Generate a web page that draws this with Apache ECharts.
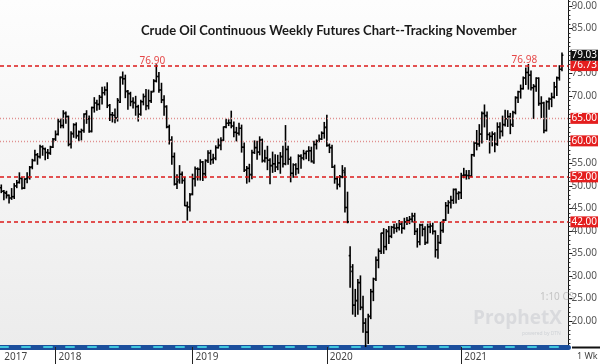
<!DOCTYPE html>
<html><head><meta charset="utf-8">
<script src="https://cdn.jsdelivr.net/npm/echarts@6/dist/echarts.min.js"></script>
<style>html,body{margin:0;padding:0;background:#fff}#c{width:600px;height:364px}</style>
</head><body><div id="c"></div>
<script>
// ---- data ----
const firstWeek = '2017-08-07';
const extraWeeks = 2; // empty weeks to the right of last bar
// weekly bars: [open, high, low, close]
const weeklyBars = [
[49.6,50.2,48.5,48.8],[48.8,49.0,46.9,48.5],[48.4,48.8,47.3,47.9],[47.9,48.0,46.2,47.3],
[47.3,49.4,47.0,47.6],[47.6,50.5,47.2,50.0],[50.0,51.2,49.6,50.7],[50.8,52.9,50.6,51.7],
[51.6,51.8,49.3,49.5],[49.5,51.6,49.4,51.5],[51.6,52.9,50.7,51.9],[51.9,54.3,51.5,54.1],
[54.2,55.9,53.8,55.6],[55.7,57.9,55.5,56.9],[56.9,57.2,54.8,56.5],[56.5,59.0,56.2,58.7],
[58.7,58.9,56.8,58.3],[58.2,58.4,55.8,57.4],[57.4,58.1,56.1,57.3],[57.3,58.8,57.0,58.6],
[58.6,60.5,58.5,60.3],[60.4,62.2,60.1,61.4],[61.5,64.8,61.3,64.3],[64.3,64.9,62.9,63.4],
[63.4,66.7,62.9,66.1],[66.1,66.4,63.9,65.4],[65.4,65.5,58.9,59.2],[59.3,62.0,58.4,61.6],
[61.6,63.8,60.8,63.6],[63.6,64.0,60.6,61.2],[61.1,62.2,60.0,62.0],[62.0,62.6,60.2,62.3],
[62.3,66.0,61.9,65.9],[66.0,66.7,63.9,64.9],[64.9,65.5,61.9,62.1],[62.1,67.5,62.0,67.4],
[67.4,69.6,66.4,68.4],[68.4,69.0,66.8,68.1],[68.1,70.1,67.0,69.7],[69.7,71.9,68.2,70.7],
[70.7,72.0,70.2,71.3],[71.3,72.9,67.4,67.9],[67.8,68.1,64.5,65.8],[65.8,66.3,64.2,65.7],
[65.7,67.1,64.0,65.1],[65.1,69.4,64.4,69.0],[68.6,74.2,68.5,74.1],[74.1,75.3,72.6,73.8],
[73.8,74.6,69.6,71.0],[71.0,71.2,67.0,70.5],[70.5,70.8,67.8,68.7],[68.8,69.6,67.3,68.5],
[68.5,69.9,65.7,67.6],[67.6,67.9,64.4,65.9],[65.9,69.0,65.7,68.7],[68.7,70.4,68.0,69.8],
[69.9,71.4,66.9,67.8],[67.8,71.3,67.1,68.9],[68.9,71.0,68.5,70.8],[71.0,73.6,70.9,73.3],
[73.3,76.9,73.1,74.3],[74.3,75.2,70.8,71.3],[71.3,72.8,68.5,69.1],[69.1,70.0,65.7,67.6],
[67.6,67.8,62.9,63.1],[63.1,63.5,59.3,60.2],[60.2,60.9,54.8,56.5],[56.5,57.3,50.2,50.4],
[50.4,52.5,49.4,50.9],[51.3,54.5,50.6,52.6],[52.6,53.1,50.6,51.2],[51.2,51.9,45.6,45.6],
[45.6,46.4,42.4,45.3],[45.3,48.3,44.4,48.0],[48.2,52.6,48.0,51.6],[51.6,54.2,50.0,53.8],
[53.8,54.0,51.3,53.7],[53.7,55.8,51.3,55.3],[55.3,55.4,51.2,52.7],[52.7,55.8,51.8,55.6],
[55.6,57.8,55.2,57.3],[57.3,57.9,54.8,55.8],[55.9,57.0,55.0,56.1],[56.2,58.9,55.8,58.5],
[58.5,60.4,58.4,59.0],[59.0,60.7,58.0,60.1],[60.1,63.1,60.1,63.1],[63.1,64.8,62.9,63.9],
[63.9,64.7,63.4,64.0],[64.0,66.6,62.9,63.3],[63.3,64.2,60.9,61.9],[61.9,63.0,60.0,61.7],
[61.7,63.9,61.3,62.8],[62.8,63.5,57.5,58.6],[58.6,59.5,53.2,53.5],[53.5,54.3,50.6,53.9],
[53.9,54.8,50.9,52.5],[52.5,57.9,51.6,57.4],[57.4,60.0,57.2,58.5],[58.5,59.9,55.9,57.5],
[57.5,60.9,56.9,60.2],[60.2,60.4,55.3,55.6],[55.6,57.9,55.3,56.2],[56.2,58.8,53.6,55.7],
[55.7,56.0,50.5,54.5],[54.5,57.5,53.0,54.9],[54.9,56.9,53.2,54.2],[54.2,56.8,53.6,55.1],
[55.1,57.4,52.8,56.5],[56.5,58.8,54.2,54.9],[54.9,63.4,54.7,58.1],[58.1,58.8,54.8,55.9],
[55.9,56.4,50.9,52.8],[52.8,54.9,51.9,54.7],[54.7,54.9,52.4,53.8],[53.8,56.9,52.8,56.6],
[56.6,56.9,53.9,56.2],[56.2,57.9,55.8,57.2],[57.2,57.7,56.0,57.7],[57.7,58.7,55.6,57.8],
[57.8,58.6,55.3,55.5],[55.2,59.9,55.0,59.2],[59.2,60.2,58.2,59.9],[59.9,61.3,59.8,60.4],
[60.4,62.0,60.3,61.7],[61.7,64.1,60.6,63.0],[63.0,65.7,58.8,59.0],[59.0,59.3,57.4,58.5],
[58.5,59.0,54.1,54.2],[54.2,54.6,50.6,51.6],[51.6,52.0,49.3,50.3],[50.3,52.3,49.8,52.0],
[52.0,54.5,51.8,53.4],[53.0,54.0,44.2,45.2],[45.2,48.6,41.8,42.0],[34.5,36.5,27.5,32.0],
[31.0,32.5,21.5,23.5],[23.5,27.0,21.0,24.5],[24.5,29.2,21.5,28.5],[28.5,30.0,22.5,23.0],
[23.0,25.5,17.5,19.5],[19.5,20.5,14.3,17.5],[17.5,21.5,15.0,21.0],[21.0,27.0,20.5,26.5],
[26.5,29.5,24.5,29.3],[29.3,34.2,29.0,33.5],[33.5,36.0,31.8,35.5],[35.5,39.5,35.0,39.5],
[39.5,40.5,35.0,36.5],[36.5,40.3,35.8,39.9],[39.9,41.0,37.2,38.8],[38.8,41.0,38.5,40.8],
[40.8,41.5,39.5,40.6],[40.6,41.6,39.8,40.7],[40.7,42.3,40.2,41.5],[41.5,42.0,39.5,40.6],
[40.6,42.8,40.4,42.0],[42.0,43.0,41.4,42.3],[42.3,43.2,41.6,42.6],[42.6,43.9,42.0,43.3],
[43.3,43.9,39.2,39.9],[39.9,40.5,36.4,37.6],[37.6,41.5,36.9,41.3],[41.3,41.5,38.9,40.4],
[40.4,40.9,37.0,37.4],[37.4,41.5,37.3,40.9],[40.9,41.6,39.6,41.1],[41.1,41.7,39.3,39.9],
[39.9,40.0,34.2,35.8],[35.8,39.0,33.9,37.4],[37.4,41.9,37.2,40.1],[40.1,42.5,39.7,42.4],
[42.4,46.3,42.3,45.6],[45.6,46.7,43.9,46.3],[46.3,47.7,45.1,46.8],[46.8,49.3,46.1,49.2],
[49.2,49.3,46.2,48.3],[48.3,48.7,47.0,48.5],[48.5,52.8,47.2,52.3],[52.3,53.9,51.8,52.4],
[52.4,53.4,51.5,52.3],[52.3,53.4,51.6,52.2],[52.2,57.0,52.0,56.9],[56.9,59.8,56.6,59.5],
[59.5,62.3,58.0,59.3],[59.3,63.6,58.8,61.5],[61.5,66.4,59.5,66.1],[66.1,67.98,63.1,65.6],
[65.6,66.4,60.3,61.4],[61.4,61.8,57.3,61.0],[61.0,62.0,58.9,61.5],[61.5,61.8,57.6,59.3],
[59.3,64.0,59.0,63.1],[63.1,64.0,60.6,62.1],[62.1,65.5,61.1,63.6],[63.6,66.8,63.3,64.9],
[64.9,66.7,63.2,65.4],[65.4,66.1,61.6,63.6],[63.6,66.6,63.2,66.3],[66.3,69.8,66.0,69.6],
[69.6,71.0,68.5,70.9],[70.9,72.4,69.5,71.6],[71.6,74.2,71.5,74.0],[74.0,76.2,72.5,75.2],
[75.2,76.98,71.5,74.6],[74.6,75.5,71.3,71.8],[71.8,72.5,65.0,72.1],[72.1,74.0,71.0,73.9],
[73.9,74.0,67.9,68.3],[68.3,69.8,65.2,68.4],[68.4,68.6,61.8,62.3],[62.3,68.9,62.2,68.7],
[68.7,69.5,67.0,69.3],[69.3,70.6,67.6,69.7],[69.7,73.0,69.5,72.0],[72.0,74.2,70.1,74.0],
[74.0,76.7,73.5,75.9],[75.9,79.5,75.6,79.03]
];
const yTickValues = [20,25,30,35,40,45,50,55,60,65,70,75,80,85,90];
const yTickLabels = [20,25,30,35,40,45,50,55,60,65,70,75,85,90]; // 80.00 hidden under last-price box
const dashedLevels = [76.73, 52.00, 42.00];
const dottedLevels = [65.00, 60.00];
const lastPrice = 79.03;
const peakWeeks = ['2018-10-01', '2021-07-05'];
const peakValues = [76.90, 76.98];
const titleText = 'Crude Oil Continuous Weekly Futures Chart--Tracking November';

// ---- build ----
const weeks = [];
{
  const t0 = Date.parse(firstWeek + 'T00:00:00Z');
  for (let i = 0; i < weeklyBars.length + extraWeeks; i++) {
    weeks.push(new Date(t0 + i * 7 * 86400000).toISOString().slice(0, 10));
  }
}
const isYearStart = (i) => i > 0 && weeks[i].slice(0, 4) !== weeks[i - 1].slice(0, 4);
const barData = weeklyBars.map((b, i) => [i, b[0], b[1], b[2], b[3]]);
const minorTicks = [];
for (let v = 15; v <= 91; v++) minorTicks.push(v);

const lblBox = (bg) => ({
  show: true, position: 'end', distance: 2, formatter: (p) => p.value.toFixed(2),
  backgroundColor: bg, color: '#fff', fontSize: 10, fontFamily: 'Noto Sans',
  padding: [1, 1, 0, 1]
});
function levelSeries(values, lineStyle, bg, z) {
  return {
    type: 'line', data: [], silent: true, z: z,
    markLine: {
      silent: true, symbol: ['none', 'none'], animation: false,
      lineStyle: lineStyle, label: lblBox(bg),
      emphasis: { disabled: true },
      data: values.map(v => ({ yAxis: v }))
    }
  };
}

function renderOHLC(params, api) {
  const x = api.value(0);
  const o = api.coord([x, api.value(1)]);
  const h = api.coord([x, api.value(2)]);
  const l = api.coord([x, api.value(3)]);
  const c = api.coord([x, api.value(4)]);
  const w = api.size([1, 0])[0];
  const t = Math.max(1, w * 0.55);
  const st = { stroke: '#000', lineWidth: 1.6 };
  return {
    type: 'group', children: [
      { type: 'line', shape: { x1: h[0], y1: h[1] - 0.5, x2: l[0], y2: l[1] + 0.5 }, style: st },
      { type: 'line', shape: { x1: o[0] - t, y1: o[1], x2: o[0], y2: o[1] }, style: st },
      { type: 'line', shape: { x1: c[0], y1: c[1], x2: c[0] + t, y2: c[1] }, style: st }
    ]
  };
}

const chart = echarts.init(document.getElementById('c'), null, { renderer: 'canvas' });
chart.setOption({
  animation: false,
  backgroundColor: '#ffffff',
  title: {
    text: titleText, left: 136, top: 19,
    textStyle: { fontFamily: 'Lato', fontWeight: 'bold', fontSize: 13, color: '#1a1a1a' }
  },
  grid: {
    left: 0, right: 28, top: 0, bottom: 17, show: true, borderWidth: 0,
    backgroundColor: new echarts.graphic.LinearGradient(0, 0, 0, 1, [
      { offset: 0, color: '#fdfdfd' }, { offset: 1, color: '#ececec' }
    ])
  },
  xAxis: [{
    type: 'category', data: weeks, boundaryGap: true,
    axisLine: { onZero: false, lineStyle: { color: '#1b4f9c', width: 5 } },
    axisTick: { show: true, alignWithLabel: true, interval: (i) => isYearStart(i), length: 17, lineStyle: { color: '#222', width: 1 } },
    axisLabel: {
      interval: (i) => i === 0 || isYearStart(i), formatter: (v) => v.slice(0, 4),
      align: 'left', padding: [0, 0, 0, 3], margin: 5, fontSize: 10, color: '#444', fontFamily: 'Noto Sans'
    },
    splitLine: { show: false }
  }, {
    type: 'category', data: weeks, position: 'bottom', offset: 0,
    axisLine: { onZero: false, lineStyle: { color: '#3fc6de', width: 2, type: [8, 14] } },
    axisTick: { show: false }, axisLabel: { show: false }, splitLine: { show: false }
  }],
  yAxis: [{
    type: 'value', position: 'right', min: 14.2, max: 91.3, scale: true,
    axisLine: { show: true, lineStyle: { color: '#111', width: 1 } },
    axisTick: { show: true, customValues: yTickValues, length: 4, lineStyle: { color: '#111' } },
    axisLabel: {
      customValues: yTickLabels, formatter: (v) => v.toFixed(2), margin: 3,
      fontSize: 10, color: '#555', fontFamily: 'Noto Sans'
    },
    splitLine: { show: false }
  }, {
    type: 'value', position: 'right', min: 14.2, max: 91.3, scale: true,
    axisLine: { show: false },
    axisTick: { show: true, customValues: minorTicks, length: 2, lineStyle: { color: '#333' } },
    axisLabel: { show: false }, splitLine: { show: false }
  }],
  series: [
    levelSeries(dottedLevels, { color: '#e0908f', type: [1, 2], width: 1.3 }, '#e41e1e', 2),
    levelSeries(dashedLevels, { color: '#dc1a1a', type: [4, 3], width: 1.6 }, '#e41e1e', 2),
    levelSeries([lastPrice], { color: 'rgba(0,0,0,0)', width: 0 }, '#111111', 2),
    {
      type: 'custom', renderItem: renderOHLC, data: barData, clip: true,
      encode: { x: 0, y: [1, 2, 3, 4] }, z: 3
    }, {
      type: 'scatter', symbolSize: 0, z: 4,
      data: peakWeeks.map((d, i) => [d, peakValues[i]]),
      label: {
        show: true, position: 'top', distance: 0, offset: [-4, 1],
        formatter: (p) => p.value[1].toFixed(2), color: '#e01818', fontSize: 10, fontFamily: 'Noto Sans'
      }
    }
  ],
  graphic: [
    { type: 'text', left: 473, top: 309, z: 1, style: { text: 'ProphetX', font: 'bold 19px "Open Sans"', fill: '#d9dadd' } },
    { type: 'text', left: 522, top: 331, z: 1, style: { text: 'powered by DTN', font: '5px "Noto Sans"', fill: '#cfd2d6' } },
    { type: 'text', left: 540, top: 292, z: 1, style: { text: '1:10 CS', font: '10px "Noto Sans"', fill: '#c4c4c4' } },
    { type: 'text', left: 577, top: 352, z: 1, style: { text: '1 Wk', font: '9px "Noto Sans"', fill: '#444' } },
    { type: 'line', z: 1, shape: { x1: 572, y1: 347.5, x2: 600, y2: 347.5 }, style: { stroke: '#111', lineWidth: 2 } }
  ]
});
</script></body></html>
